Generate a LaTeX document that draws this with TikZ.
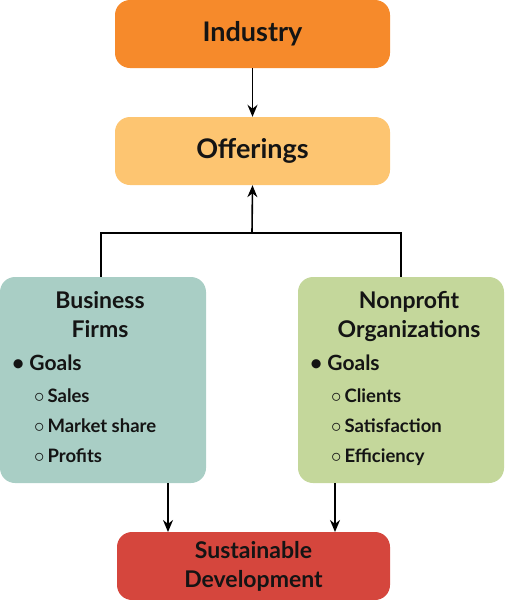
\documentclass[tikz,border=0pt]{standalone}
\usepackage{fontspec}
\setmainfont{Lato}
\usepackage{xcolor}
\usepackage{tikz}
\usetikzlibrary{arrows.meta,positioning,calc}

\definecolor{indorange}{HTML}{F68A2B}
\definecolor{offorange}{HTML}{FDC571}
\definecolor{firmteal}{HTML}{A9CEC5}
\definecolor{npgreen}{HTML}{C4D79B}
\definecolor{sdred}{HTML}{D5463D}
\definecolor{ink}{HTML}{141414}

\newcommand{\subdot}{{\fontsize{22}{22}\selectfont$\circ$}}

\begin{document}
\begin{tikzpicture}[x=1pt, y=-1pt,
  box/.style={rectangle, rounded corners=15pt, inner sep=0pt, text=ink},
  top/.style={box, minimum width=275pt, minimum height=68pt,
              font=\fontsize{27}{30}\selectfont\bfseries},
  side/.style={box, minimum width=206pt, minimum height=206pt},
  head/.style={font=\fontsize{23}{29}\selectfont\bfseries, text=ink, inner sep=0pt},
  goal/.style={font=\fontsize{21}{24}\selectfont\bfseries, text=ink, inner sep=0pt, anchor=base west},
  item/.style={font=\fontsize{18.5}{22}\selectfont\bfseries, text=ink, inner sep=0pt, anchor=base west},
  arr/.style={-{Stealth[length=12pt,width=10pt]}, line width=1.6pt},
  line/.style={line width=1.6pt}
]
\useasboundingbox (0,0) rectangle (504,600);

% boxes
\node[top, fill=indorange] (ind) at (252.5,34)  {Industry};
\node[top, fill=offorange] (off) at (252.5,151) {Offerings};
\node[side, fill=firmteal] (bf) at (103,380) {};
\node[side, fill=npgreen]  (np) at (401,380) {};
\node[top, fill=sdred, minimum width=273pt, align=center,
      font=\fontsize{23}{29}\selectfont\bfseries] (sd) at (253.5,566)
      {Sustainable\\Development};

% business firms text
\node[head, anchor=base] (bfh1) at (100,308) {Business};
\node[head, anchor=base] (bfh2) at (100,337) {Firms};
\node[goal] (bfgoal) at (12,370) {•\hspace{5pt}Goals};
\foreach \txt [count=\i] in {Sales, Market share, Profits}
  \node[item] (bfitem\i) at (34,372+30*\i) {\subdot\hspace{3pt}\txt};

% nonprofit text
\node[head, anchor=base] (nph1) at (409,308) {Nonprofit};
\node[head, anchor=base] (nph2) at (409,337) {Organizations};
\node[goal] (npgoal) at (310,370) {•\hspace{5pt}Goals};
\foreach \txt [count=\i] in {Clients, Satisfaction, Efficiency}
  \node[item] (npitem\i) at (331,372+30*\i) {\subdot\hspace{3pt}\txt};

% connectors
\coordinate (join) at (252,233);
\coordinate (sdl) at (168,532);
\coordinate (sdr) at (335,532);
\draw[arr] (ind) -- (off);
\draw[line] ($(bf.north)+(-2,0)$) |- (join) -| (np.north);
\draw[arr] (join) -- (off.south);
\draw[arr] (bf.south -| sdl) -- (sdl);
\draw[arr] (np.south -| sdr) -- (sdr);
\end{tikzpicture}
\end{document}
